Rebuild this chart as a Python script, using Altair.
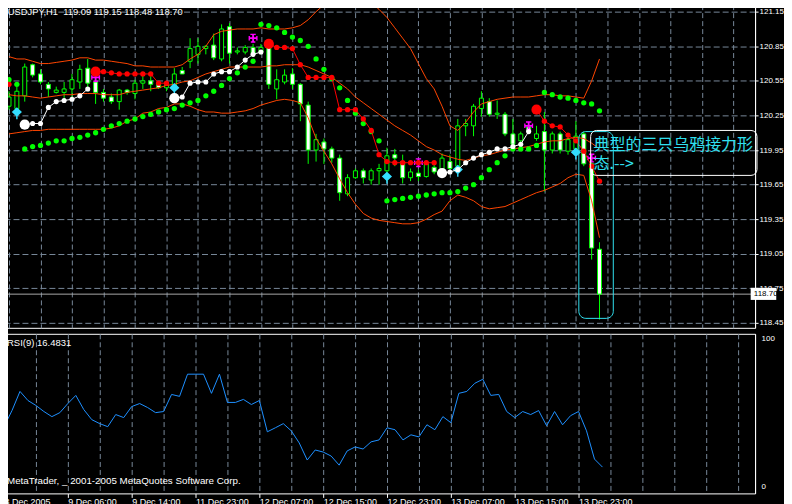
import altair as alt
import pandas as pd

FONT = "Liberation Sans"
CJK_FONT = "Noto Sans CJK SC"

# ---------------- data ----------------
OPEN = [120.33, 120.31, 120.42, 120.69, 120.61, 120.52, 120.45, 120.45, 120.48, 120.54,
        120.66, 120.54, 120.45, 120.41, 120.37, 120.47, 120.44, 120.53, 120.55, 120.52,
        120.49, 120.50, 120.64, 120.72, 120.78, 120.83, 120.86, 120.74, 121.02, 120.80,
        120.80, 120.84, 120.80, 120.85, 120.48, 120.54, 120.61, 120.52, 120.34, 119.95,
        120.02, 119.96, 119.88, 119.57, 119.71, 119.77, 119.69, 119.77, 119.77, 119.91,
        119.85, 119.71, 119.75, 119.72, 119.80, 119.75, 119.85, 119.81, 120.16, 120.16,
        120.31, 120.37, 120.26, 120.26, 120.09, 120.03, 120.15, 120.05, 120.11, 119.95,
        120.09, 119.94, 119.96, 120.09, 119.83, 119.09]
HIGH = [120.46, 120.50, 120.70, 120.70, 120.65, 120.54, 120.50, 120.54, 120.61, 120.69,
        120.74, 120.66, 120.48, 120.44, 120.48, 120.48, 120.56, 120.61, 120.59, 120.54,
        120.54, 120.66, 120.67, 120.92, 120.92, 120.86, 120.96, 121.04, 121.05, 120.84,
        120.86, 120.87, 120.87, 120.91, 120.65, 120.65, 120.66, 120.53, 120.37, 120.09,
        120.05, 119.98, 119.91, 119.74, 119.79, 119.79, 119.79, 119.83, 119.97, 119.96,
        119.91, 119.79, 119.78, 119.85, 119.83, 119.92, 119.91, 120.22, 120.22, 120.35,
        120.46, 120.40, 120.38, 120.28, 120.22, 120.11, 120.18, 120.16, 120.28, 120.11,
        120.11, 120.09, 120.20, 120.11, 119.85, 119.15]
LOW = [120.30, 120.28, 120.37, 120.58, 120.52, 120.41, 120.44, 120.40, 120.41, 120.48,
       120.46, 120.35, 120.37, 120.35, 120.30, 120.43, 120.39, 120.48, 120.46, 120.48,
       120.46, 120.46, 120.61, 120.66, 120.70, 120.78, 120.73, 120.72, 120.70, 120.78,
       120.78, 120.76, 120.78, 120.48, 120.39, 120.52, 120.48, 120.20, 119.83, 119.85,
       119.83, 119.84, 119.51, 119.55, 119.70, 119.66, 119.65, 119.65, 119.68, 119.81,
       119.66, 119.68, 119.68, 119.71, 119.74, 119.72, 119.78, 119.77, 120.07, 120.07,
       120.24, 120.24, 120.22, 120.07, 119.98, 120.01, 120.09, 120.03, 119.59, 119.92,
       119.92, 119.91, 119.93, 119.81, 119.00, 118.48]
CLOSE = [120.41, 120.46, 120.67, 120.60, 120.54, 120.48, 120.47, 120.48, 120.56, 120.65,
         120.53, 120.45, 120.40, 120.37, 120.47, 120.45, 120.53, 120.55, 120.52, 120.49,
         120.51, 120.61, 120.61, 120.83, 120.85, 120.85, 120.75, 121.00, 120.79, 120.81,
         120.84, 120.79, 120.84, 120.52, 120.56, 120.60, 120.52, 120.35, 119.95, 120.04,
         119.96, 119.88, 119.58, 119.71, 119.77, 119.71, 119.77, 119.79, 119.90, 119.88,
         119.71, 119.76, 119.72, 119.83, 119.76, 119.88, 119.79, 120.16, 120.18, 120.33,
         120.40, 120.26, 120.27, 120.09, 120.00, 120.09, 120.11, 120.09, 119.95, 120.09,
         119.95, 120.04, 120.07, 119.83, 119.10, 118.70]

BB_UPPER = [120.76, 120.74, 120.74, 120.72, 120.70, 120.70, 120.71, 120.72, 120.73, 120.75,
            120.75, 120.73, 120.73, 120.72, 120.71, 120.70, 120.68, 120.68, 120.67, 120.67,
            120.67, 120.67, 120.69, 120.74, 120.78, 120.85, 120.95, 120.98, 120.99, 121.00,
            121.00, 121.00, 121.01, 121.00, 121.00, 121.00, 121.01, 121.03, 121.08, 121.15,
            121.21, 121.28, 121.33, 121.36, 121.35, 121.31, 121.23, 121.17, 121.10, 121.01,
            120.92, 120.83, 120.70, 120.57, 120.48, 120.33, 120.16, 120.12, 120.19, 120.28,
            120.35, 120.37, 120.39, 120.40, 120.41, 120.41, 120.41, 120.42, 120.43, 120.43,
            120.42, 120.42, 120.41, 120.40, 120.55, 120.74]
BB_MIDDLE = [120.43, 120.42, 120.42, 120.41, 120.40, 120.41, 120.42, 120.43, 120.43, 120.44,
             120.44, 120.44, 120.43, 120.43, 120.43, 120.45, 120.46, 120.47, 120.48, 120.49,
             120.51, 120.52, 120.54, 120.55, 120.58, 120.61, 120.63, 120.65, 120.67, 120.67,
             120.67, 120.67, 120.67, 120.68, 120.68, 120.69, 120.69, 120.69, 120.67, 120.64,
             120.61, 120.58, 120.53, 120.48, 120.41, 120.36, 120.31, 120.26, 120.21, 120.16,
             120.12, 120.08, 120.03, 119.98, 119.95, 119.91, 119.89, 119.87, 119.86, 119.88,
             119.90, 119.91, 119.93, 119.95, 119.96, 119.97, 119.98, 120.00, 120.02, 120.03,
             120.03, 120.05, 120.06, 120.05, 120.01, 119.96]
BB_LOWER = [120.09, 120.10, 120.11, 120.12, 120.12, 120.13, 120.13, 120.13, 120.13, 120.13,
            120.13, 120.13, 120.13, 120.14, 120.16, 120.20, 120.22, 120.27, 120.28, 120.31,
            120.32, 120.35, 120.35, 120.33, 120.30, 120.28, 120.28, 120.27, 120.27, 120.28,
            120.29, 120.31, 120.34, 120.36, 120.38, 120.39, 120.38, 120.36, 120.23, 120.05,
            119.94, 119.83, 119.70, 119.58, 119.48, 119.40, 119.36, 119.34, 119.33, 119.32,
            119.31, 119.31, 119.32, 119.35, 119.39, 119.42, 119.51, 119.56, 119.54, 119.51,
            119.46, 119.44, 119.45, 119.46, 119.49, 119.52, 119.55, 119.58, 119.60, 119.63,
            119.66, 119.71, 119.74, 119.73, 119.51, 119.19]

SAR = [120.56, 120.52, 119.96, 119.98, 119.99, 120.01, 120.03, 120.03, 120.05, 120.06,
       120.08, 120.10, 120.13, 120.16, 120.18, 120.20, 120.22, 120.24, 120.26, 120.28,
       120.30, 120.31, 120.34, 120.36, 120.38, 120.42, 120.46, 120.51, 120.57, 120.62,
       120.67, 120.72, 121.04, 121.03, 121.01, 120.97, 120.93, 120.90, 120.85, 120.74,
       120.65, 120.57, 120.49, 120.38, 120.27, 120.18, 120.11, 120.03, 119.51, 119.52,
       119.53, 119.54, 119.55, 119.56, 119.57, 119.58, 119.58, 119.59, 119.62, 119.65,
       119.71, 119.78, 119.84, 119.90, 119.96, 119.96, 119.96, 119.99, 120.45, 120.43,
       120.41, 120.40, 120.38, 120.36, 120.35, 120.29]

RSI = [41.8, 51.9, 63.9, 58.2, 55.1, 51.3, 48.1, 50.6, 56.3, 61.4,
       52.5, 46.2, 43.7, 41.8, 49.4, 47.5, 54.4, 56.3, 53.8, 50.6,
       51.3, 62.0, 60.8, 74.7, 74.7, 74.7, 62.7, 74.7, 57.0, 57.0,
       58.9, 55.7, 58.2, 38.6, 41.1, 43.7, 39.2, 31.6, 20.9, 27.2,
       25.9, 23.4, 17.7, 26.6, 29.1, 27.8, 32.3, 33.5, 41.1, 39.9,
       33.5, 36.7, 35.4, 43.0, 39.9, 48.1, 44.3, 62.7, 63.9, 69.0,
       71.5, 61.4, 62.0, 51.3, 47.5, 51.3, 49.4, 51.9, 42.4, 51.3,
       43.0, 48.7, 51.3, 39.2, 21.5, 16.4831]

# trailing-stop style dotted lines: (first bar, values, big first dot)
RED_SEGMENTS = [
    (0, [120.52], False),
    (11, [120.63, 120.63, 120.62, 120.61, 120.61, 120.61, 120.61, 120.61, 120.53, 120.53], True),
    (33, [120.87, 120.84, 120.84, 120.83, 120.69, 120.58, 120.58, 120.58, 120.58, 120.30,
          120.30, 120.30, 120.22, 120.12, 119.91, 119.85, 119.84, 119.84, 119.84, 119.84,
          119.84, 119.84], True),
    (67, [120.30, 120.20, 120.16, 120.15, 120.08, 120.03, 119.94, 119.81, 119.68], True),
]
WHITE_SEGMENTS = [
    (2, [120.17, 120.18, 120.18, 120.32, 120.37, 120.38, 120.39, 120.42, 120.48], True),
    (21, [120.40, 120.41, 120.53, 120.54, 120.54, 120.61, 120.63, 120.63, 120.67, 120.73,
          120.78, 120.80], True),
    (55, [119.75, 119.76, 119.78, 119.84, 119.88, 119.91, 119.93, 119.96, 119.96, 119.98,
          120.00, 120.11], True),
]

FRACTAL_UP_I = [11, 31, 52, 66, 74]
FRACTAL_UP_P = [120.58, 120.92, 119.84, 120.16, 119.88]
FRACTAL_DN_I = [1, 21, 48, 57, 72]
FRACTAL_DN_P = [120.27, 120.48, 119.71, 119.77, 119.92]

PRICE_TICKS = [118.45, 118.75, 119.05, 119.35, 119.65, 119.95, 120.25, 120.55, 120.85, 121.15]
GRID_X = [0, 4, 8, 12, 16, 20, 24, 28, 32, 36, 40, 44, 48, 52, 56, 60, 64, 68, 72, 76, 80, 84, 88, 92]
TIME_LABELS = ["8 Dec 2005", "9 Dec 06:00", "9 Dec 14:00", "11 Dec 23:00", "12 Dec 07:00",
               "12 Dec 15:00", "12 Dec 23:00", "13 Dec 07:00", "13 Dec 15:00", "13 Dec 23:00"]

HEADER = "USDJPY,H1\u00a0 119.09 119.15 118.48 118.70"
RSI_TITLE = "RSI(9) 16.4831"
COPYRIGHT = "MetaTrader, _ 2001-2005 MetaQuotes Software Corp."
LAST_PRICE = 118.70

ANNOT_LINES = ["典型的三只乌鸦接力形", "态.-->"]
ANNOT_I = [74.25, 74.25]
ANNOT_P = [119.99, 119.83]
NOTE_BOX = {"x1": [73.875], "x2": [95.0], "p1": [120.12], "p2": [119.73]}
CROWS_BOX = {"x1": [72.375], "x2": [76.75], "p1": [120.11], "p2": [118.49]}
PRICE_TAG = {"x1": [94.2], "x2": [97.45], "p1": [118.755], "p2": [118.65]}

# ---------------- styling ----------------
LIME = "#00ff00"
ORANGE = "#ff4500"
GRID = "#778899"
BLUE = "#1e90ff"
MAGENTA = "#ff00ff"
AQUA = "#33ddff"
NOTE_CYAN = "#30e0f0"

UP_SHAPE = ("M-0.2,-1L0.2,-1L0.2,1L-0.2,1Z M-1,-0.2L1,-0.2L1,0.2L-1,0.2Z "
            "M-0.6,-1L0.6,-1L0.6,-0.7L-0.6,-0.7Z M-1,-0.5L-0.7,-0.5L-0.7,0.5L-1,0.5Z "
            "M0.7,-0.5L1,-0.5L1,0.5L0.7,0.5Z M-0.5,0.7L0.5,0.7L0.5,1L-0.5,1Z")
DN_SHAPE = "M0,-1L0.85,-0.2L0,0.6L-0.85,-0.2Z M-0.12,0.5L0.12,0.5L0.12,1L-0.12,1Z"

# ---------------- frames ----------------
bars = pd.DataFrame({
    "i": list(range(len(CLOSE))), "open": OPEN, "high": HIGH, "low": LOW, "close": CLOSE,
    "upper": BB_UPPER, "middle": BB_MIDDLE, "lower": BB_LOWER, "sar": SAR, "rsi": RSI,
})


def seg_frame(segments):
    rows = []
    for k, (start, vals, big) in enumerate(segments):
        for j, v in enumerate(vals):
            rows.append({"seg": k, "i": start + j, "v": v, "big": bool(big and j == 0)})
    return pd.DataFrame(rows)


red = seg_frame(RED_SEGMENTS)
white = seg_frame(WHITE_SEGMENTS)

x_scale = alt.Scale(domain=[0, 94.125], nice=False, zero=False)
y_scale = alt.Scale(domain=[118.408, 121.211], nice=False, zero=False)

x_axis_main = alt.Axis(values=GRID_X, grid=True, gridColor=GRID, gridDash=[5, 3], gridWidth=1,
                       labels=False, ticks=False, domain=False, title=None)
y_axis_main = alt.Axis(values=PRICE_TICKS, format=".2f", orient="right", grid=True,
                       gridColor=GRID, gridDash=[6, 3], gridWidth=1, tickSize=3,
                       tickColor="#ffffff", domain=True, domainColor="#ffffff",
                       labelColor="#ffffff", labelFont=FONT, labelFontSize=8,
                       labelPadding=1, labelOverlap=False, title=None)


def X(f):
    return alt.X(f"{f}:Q", scale=x_scale, axis=x_axis_main)


def Y(f):
    return alt.Y(f"{f}:Q", scale=y_scale, axis=y_axis_main)


price_line = alt.Chart(pd.DataFrame({"p": [LAST_PRICE]})).mark_rule(
    color="#a8a8a8", strokeWidth=1).encode(y=Y("p"))

wicks = alt.Chart(bars).mark_rule(color=LIME, strokeWidth=1, clip=True).encode(
    x=X("i"), y=Y("low"), y2=alt.Y2("high"))

bodies = alt.Chart(bars).mark_bar(size=4, stroke=LIME, strokeWidth=1, clip=True).encode(
    x=X("i"), y=Y("open"), y2=alt.Y2("close"),
    fill=alt.condition("datum.close > datum.open", alt.value("#000000"), alt.value("#ffffff")))

bb = [alt.Chart(bars).mark_line(color=ORANGE, strokeWidth=1, clip=True).encode(x=X("i"), y=Y(f))
      for f in ("upper", "middle", "lower")]

sar = alt.Chart(bars).mark_circle(size=28, color=LIME, opacity=1, clip=True).encode(
    x=X("i"), y=Y("sar"))


def dotted(df, color, small):
    line = alt.Chart(df).mark_line(color=color, strokeWidth=1, clip=True).encode(
        x=X("i"), y=Y("v"), detail="seg:N")
    pts = alt.Chart(df).mark_circle(color=color, opacity=1, clip=True).encode(
        x=X("i"), y=Y("v"),
        size=alt.condition("datum.big", alt.value(105), alt.value(small)))
    return [line, pts]


frac_up = alt.Chart(pd.DataFrame({"i": FRACTAL_UP_I, "p": FRACTAL_UP_P})).mark_point(
    shape=UP_SHAPE, filled=True, size=81, color=MAGENTA, opacity=1, strokeWidth=0).encode(
    x=X("i"), y=Y("p"))
frac_dn = alt.Chart(pd.DataFrame({"i": FRACTAL_DN_I, "p": FRACTAL_DN_P})).mark_point(
    shape=DN_SHAPE, filled=True, size=144, color=AQUA, opacity=1, strokeWidth=0).encode(
    x=X("i"), y=Y("p"))

header = alt.Chart(pd.DataFrame({"t": [HEADER]})).mark_text(
    align="left", baseline="middle", font=FONT, fontSize=9.4, color="#ffffff").encode(
    x=alt.value(3.7), y=alt.value(7), text="t:N")

crows_box = alt.Chart(pd.DataFrame(CROWS_BOX)).mark_rect(
    cornerRadius=7, fillOpacity=0, stroke=NOTE_CYAN, strokeWidth=1).encode(
    x=X("x1"), x2=alt.X2("x2"), y=Y("p1"), y2=alt.Y2("p2"))
note_box = alt.Chart(pd.DataFrame(NOTE_BOX)).mark_rect(
    cornerRadius=6, fillOpacity=0, stroke="#ffffff", strokeWidth=1).encode(
    x=X("x1"), x2=alt.X2("x2"), y=Y("p1"), y2=alt.Y2("p2"))
note_text = alt.Chart(pd.DataFrame({"t": ANNOT_LINES, "i": ANNOT_I, "p": ANNOT_P})).mark_text(
    align="left", baseline="middle", font=CJK_FONT, fontSize=16, color=NOTE_CYAN).encode(
    x=X("i"), y=Y("p"), text="t:N")

tag_box = alt.Chart(pd.DataFrame(PRICE_TAG)).mark_rect(color="#ffffff").encode(
    x=X("x1"), x2=alt.X2("x2"), y=Y("p1"), y2=alt.Y2("p2"))
tag_text = alt.Chart(pd.DataFrame({"t": [f"{LAST_PRICE:.2f}"], "i": [94.6], "p": [LAST_PRICE]})).mark_text(
    align="left", baseline="middle", font=FONT, fontSize=8, color="#000000").encode(
    x=X("i"), y=Y("p"), text="t:N")

main = alt.layer(
    price_line, wicks, bodies, *bb, sar, frac_up, frac_dn,
    *dotted(white, "#ffffff", 26), *dotted(red, "#ff0000", 28),
    header, crows_box, note_box, note_text, tag_box, tag_text,
).properties(width=753, height=324)

# ---------------- RSI panel ----------------
labels_js = "[" + ",".join("'%s'" % s for s in TIME_LABELS) + "]"
tick_test = f"datum.value % 8 === 0 && datum.value / 8 < {len(TIME_LABELS)}"
x_axis_rsi = alt.Axis(
    values=GRID_X, grid=True, gridColor=GRID, gridDash=[5, 3], gridWidth=1,
    labelExpr=f"({tick_test}) ? {labels_js}[datum.value / 8] : ''",
    labelAlign="left", labelBaseline="top", labelPadding=0, labelColor="#ffffff",
    labelFont=FONT, labelFontSize=9, labelFlush=False, labelOverlap=False,
    ticks=True, tickSize=4, tickColor="#ffffff",
    tickOpacity={"condition": {"test": tick_test, "value": 1}, "value": 0},
    domain=False, title=None)
y_axis_rsi = alt.Axis(values=[4.5, 97], labelExpr="datum.value > 50 ? '100' : '0'",
                      orient="right", grid=False, ticks=True, tickSize=3, tickOpacity=0,
                      domain=True, domainColor="#ffffff", labelColor="#ffffff",
                      labelFont=FONT, labelFontSize=8, labelPadding=3, title=None)

rsi_line = alt.Chart(bars).mark_line(color=BLUE, strokeWidth=1, clip=True).encode(
    x=alt.X("i:Q", scale=x_scale, axis=x_axis_rsi),
    y=alt.Y("rsi:Q", scale=alt.Scale(domain=[0, 100], nice=False, zero=False), axis=y_axis_rsi))
rsi_title = alt.Chart(pd.DataFrame({"t": [RSI_TITLE]})).mark_text(
    align="left", baseline="middle", font=FONT, fontSize=9.5, color="#ffffff").encode(
    x=alt.value(3), y=alt.value(9.5), text="t:N")
copyright_txt = alt.Chart(pd.DataFrame({"t": [COPYRIGHT]})).mark_text(
    align="left", baseline="middle", font=FONT, fontSize=9.8, color="#ffffff").encode(
    x=alt.value(3), y=alt.value(148), text="t:N")

rsi = alt.layer(rsi_line, rsi_title, copyright_txt).properties(width=753, height=160)

chart = alt.vconcat(main, rsi, spacing=4).properties(
    background="#000000",
    padding={"left": -5, "top": -5, "right": 0, "bottom": 0},
).configure_view(stroke="#ffffff", strokeWidth=1)

chart.save("out.html", embed_options={"renderer": "svg", "actions": False})
